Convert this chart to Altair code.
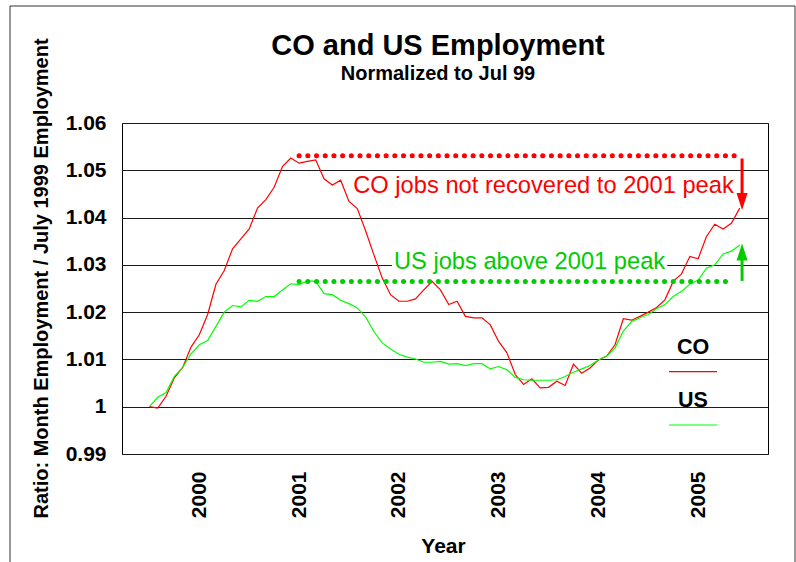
import altair as alt
import pandas as pd

# Monthly employment ratios, Jul 1999 .. Jun 2005, normalized to Jul 1999
months = pd.date_range("1999-07-01", periods=72, freq="MS")

co_ratio = [
    1.0000, 0.9997, 1.0022, 1.0061, 1.0083, 1.0126, 1.0152, 1.0195, 1.0259, 1.0288, 1.0334, 1.0355,
    1.0376, 1.0420, 1.0438, 1.0464, 1.0508, 1.0526, 1.0515, 1.0519, 1.0522, 1.0482, 1.0469, 1.0479,
    1.0434, 1.0419, 1.0372, 1.0321, 1.0272, 1.0237, 1.0223, 1.0223, 1.0228, 1.0247, 1.0265, 1.0247,
    1.0216, 1.0223, 1.0191, 1.0188, 1.0188, 1.0173, 1.0138, 1.0114, 1.0068, 1.0047, 1.0059, 1.0040,
    1.0041, 1.0054, 1.0045, 1.0090, 1.0071, 1.0082, 1.0099, 1.0107, 1.0131, 1.0186, 1.0183, 1.0191,
    1.0200, 1.0210, 1.0226, 1.0265, 1.0281, 1.0318, 1.0313, 1.0360, 1.0386, 1.0376, 1.0388, 1.0420,
]
us_ratio = [
    1.0000, 1.0020, 1.0030, 1.0064, 1.0083, 1.0112, 1.0131, 1.0140, 1.0170, 1.0200, 1.0214, 1.0211,
    1.0225, 1.0223, 1.0233, 1.0233, 1.0247, 1.0260, 1.0258, 1.0266, 1.0265, 1.0239, 1.0237, 1.0225,
    1.0218, 1.0209, 1.0190, 1.0159, 1.0135, 1.0122, 1.0111, 1.0105, 1.0101, 1.0094, 1.0094, 1.0096,
    1.0090, 1.0091, 1.0087, 1.0091, 1.0091, 1.0080, 1.0085, 1.0078, 1.0062, 1.0057, 1.0056, 1.0056,
    1.0056, 1.0057, 1.0064, 1.0073, 1.0080, 1.0087, 1.0099, 1.0107, 1.0124, 1.0160, 1.0180, 1.0188,
    1.0195, 1.0207, 1.0216, 1.0233, 1.0244, 1.0259, 1.0268, 1.0293, 1.0300, 1.0323, 1.0329, 1.0342,
]
series_names = ["CO", "US"]
series_colors = ["#ff0000", "#00ff00"]

year_ticks = [2000, 2001, 2002, 2003, 2004, 2005]
ratio_ticks = [0.99, 1.00, 1.01, 1.02, 1.03, 1.04, 1.05, 1.06]

# Reference levels: the 2001 peaks
co_peak_level = 1.0531
us_peak_level = 1.0265

FONT = "Liberation Sans"
RED = "#ff0000"
GREEN = "#00cc00"

decimal_year = list(months.year + (months.month - 1) / 12.0)
df = pd.DataFrame({
    "t": decimal_year * 2,
    "ratio": co_ratio + us_ratio,
    "series": ["CO"] * len(co_ratio) + ["US"] * len(us_ratio),
})

x_scale = alt.Scale(domain=[1999.225, 2005.70], nice=False, zero=False)
y_scale = alt.Scale(domain=[0.99, 1.06], nice=False, zero=False)

x_axis = alt.Axis(
    values=year_ticks, format="d", labelAngle=270, labelFontSize=21, labelFontWeight="bold",
    labelFont=FONT, labelColor="black", labelPadding=17, ticks=False, tickSize=0, domain=False,
    grid=False, title="Year", titleFontSize=21, titleFontWeight="bold", titleFont=FONT,
    titleColor="black", titleX=321, titleY=98, titleBaseline="alphabetic", titleAlign="center",
)
y_axis = alt.Axis(
    values=ratio_ticks, format="~g", labelFontSize=21, labelFontWeight="bold", labelFont=FONT,
    labelColor="black", labelPadding=16, ticks=False, tickSize=0, domain=False, grid=True,
    gridColor="#1a1a1a", gridWidth=1,
    title="Ratio: Month Employment / July 1999 Employment", titleFontSize=20,
    titleFontWeight="bold", titleFont=FONT, titleColor="black", titleAngle=270,
    titleX=-81, titleY=155, titleBaseline="middle", titleAlign="center",
)

X = alt.X("t:Q", scale=x_scale, axis=x_axis)
Y = alt.Y("ratio:Q", scale=y_scale, axis=y_axis)

lines = alt.Chart(df).mark_line(strokeWidth=1.2).encode(
    x=X, y=Y,
    color=alt.Color("series:N", scale=alt.Scale(domain=series_names, range=series_colors), legend=None),
)

# Dotted peak reference lines
peak_df = pd.DataFrame({
    "t": [2001.0, 2001.0],
    "t2": [2005.42, 2005.33],
    "ratio": [co_peak_level, us_peak_level],
    "c": [RED, GREEN],
})
peak_lines = alt.Chart(peak_df).mark_rule(strokeWidth=5, strokeDash=[0.1, 8.6], strokeCap="round").encode(
    x=X, x2="t2:Q", y=Y, color=alt.Color("c:N", scale=None),
)

# Arrows: shaft plus head
shaft_df = pd.DataFrame({
    "t": [2005.44, 2005.44],
    "ratio": [1.0525, 1.0266],
    "ratio2": [1.0440, 1.0322],
    "c": [RED, GREEN],
})
shafts = alt.Chart(shaft_df).mark_rule(strokeWidth=3).encode(
    x=X, y=Y, y2="ratio2:Q", color=alt.Color("c:N", scale=None),
)
head_down = alt.Chart(pd.DataFrame({"t": [2005.44], "ratio": [1.0434]})).mark_point(
    shape="M-0.65,-1L0.65,-1L0,1Z", size=289, filled=True, opacity=1, color=RED, strokeWidth=0,
).encode(x=X, y=Y)
head_up = alt.Chart(pd.DataFrame({"t": [2005.44], "ratio": [1.0327]})).mark_point(
    shape="M-0.65,1L0.65,1L0,-1Z", size=289, filled=True, opacity=1, color=GREEN, strokeWidth=0,
).encode(x=X, y=Y)

# White backing behind the US note
note_box = alt.Chart(pd.DataFrame({"t": [2001.93], "t2": [2004.69], "ratio": [1.0279], "ratio2": [1.0335]})).mark_rect(
    color="white"
).encode(x=X, x2="t2:Q", y=Y, y2="ratio2:Q")

note_df = pd.DataFrame({
    "t": [2003.45, 2003.31],
    "ratio": [1.0452, 1.0291],
    "label": ["CO jobs not recovered to 2001 peak", "US jobs above 2001 peak"],
    "c": [RED, GREEN],
})
notes = alt.Chart(note_df).mark_text(font=FONT, fontSize=23.7, align="center", baseline="alphabetic").encode(
    x=X, y=Y, text="label:N", color=alt.Color("c:N", scale=None),
)

# Hand-placed legend: name above a line swatch
leg_df = pd.DataFrame({"name": series_names, "ty": [231, 283.7], "ly": [248.7, 302], "c": series_colors})
legend_text = alt.Chart(leg_df).mark_text(
    font=FONT, fontSize=21.5, fontWeight="bold", align="center", baseline="alphabetic", color="black"
).encode(x=alt.value(571), y=alt.Y("ty:Q", scale=None), text="name:N")
legend_lines = alt.Chart(leg_df).mark_rule(strokeWidth=1.2).encode(
    x=alt.value(547), x2=alt.value(595), y=alt.Y("ly:Q", scale=None), color=alt.Color("c:N", scale=None),
)

# Titles
title_df = pd.DataFrame({"txt": ["CO and US Employment", "Normalized to Jul 99"], "ty": [-68, -43], "fs": [29, 20]})
titles = alt.Chart(title_df).mark_text(
    font=FONT, fontWeight="bold", align="center", baseline="alphabetic", color="black"
).encode(
    x=alt.value(316), y=alt.Y("ty:Q", scale=None), text="txt:N", size=alt.Size("fs:Q", scale=None, legend=None),
)

# Outer frame around the whole figure
frame = alt.Chart(pd.DataFrame({"k": [0]})).mark_rect(fill=None, stroke="#333333", strokeWidth=1).encode(
    x=alt.value(-112), x2=alt.value(673), y=alt.value(-117), y2=alt.value(450),
)

chart = alt.layer(
    frame, lines, note_box, notes, peak_lines, shafts, head_down, head_up,
    legend_text, legend_lines, titles,
).properties(
    width=646, height=331,
    padding={"left": 122, "top": 123, "right": 28, "bottom": 108},
    autosize=alt.AutoSizeParams(type="none"),
).configure(
    font=FONT, background="white",
).configure_view(
    stroke="black", strokeWidth=1,
)

chart.save("out.html", embed_options={"renderer": "svg", "actions": False})
